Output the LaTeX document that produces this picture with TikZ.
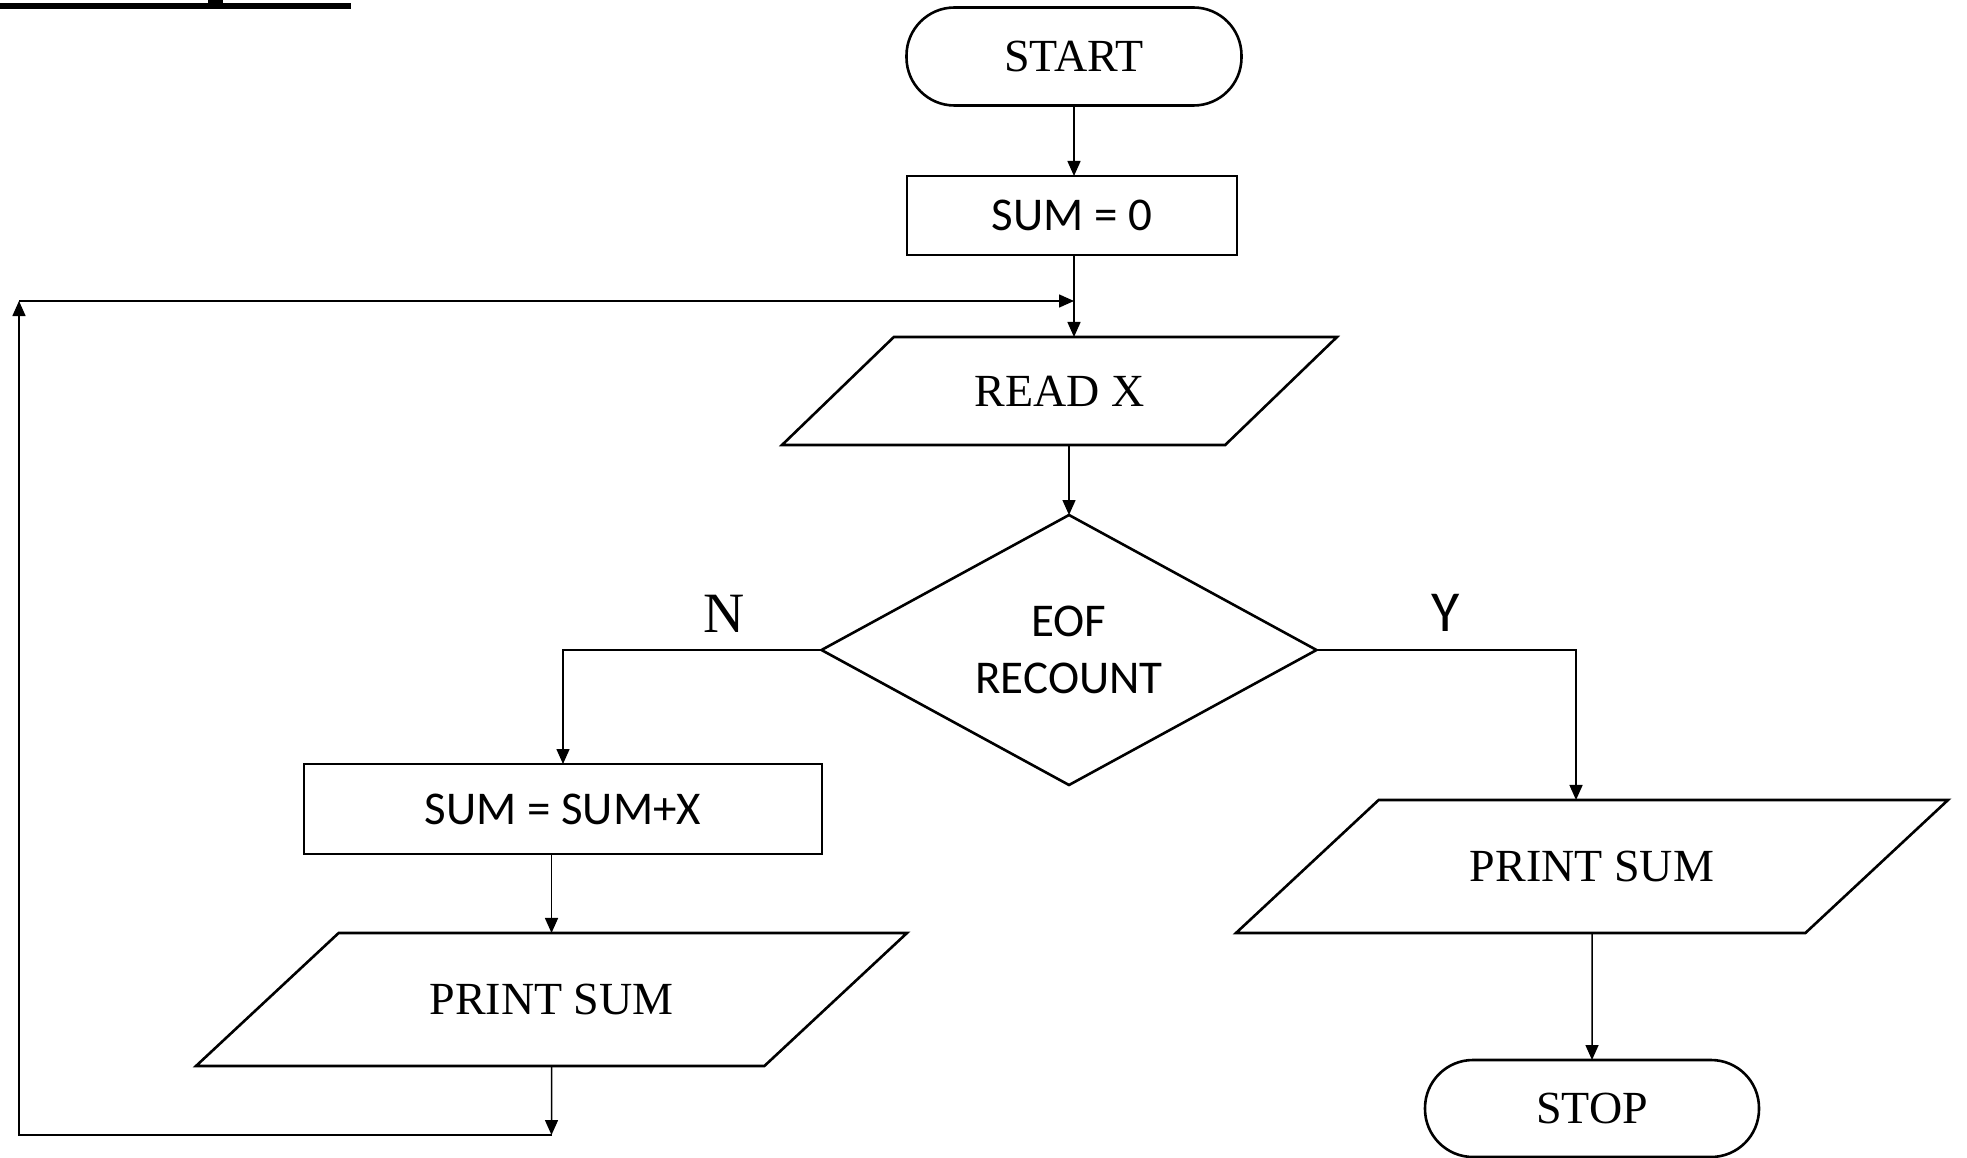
\documentclass[tikz,border=0pt]{standalone}
\usepackage{fontspec}
\setmainfont{Liberation Serif}
\newfontfamily\calfont{Carlito}
\usetikzlibrary{shapes.geometric,arrows.meta}

\begin{document}
\begin{tikzpicture}[x=1pt,y=-1pt,
  every node/.style={inner sep=0pt, outer sep=0pt},
  shapeline/.style={draw, line width=2.6pt},
  conn/.style={line width=1.5pt, -{Triangle[length=15pt,width=13pt]}},
  tfont/.style={font=\fontsize{46}{55}\selectfont},
  cfont/.style={font=\calfont\fontsize{47}{57}\selectfont},
  terminal/.style={shapeline, rectangle, rounded corners=48pt, tfont},
  process/.style={shapeline, rectangle, cfont},
  % slanted input/output box: its height comes from the fixed text box and
  % the vertical padding, so the sides keep their slope
  iobox/.style={shapeline, trapezium, trapezium left angle=#1, trapezium right angle=180-#1,
    trapezium stretches body, text height=30pt, text depth=0pt, tfont},
  decision/.style={shapeline, diamond, shape aspect=1.833, cfont, align=center},
]
\useasboundingbox (0,0) rectangle (1967,1158);

% heading underline at the top left
\fill (0,3.5) rectangle (351,9.5);
\fill (208,0) rectangle (223,4);

% flowchart blocks
\node[terminal, minimum width=335pt, minimum height=98pt] (start) at (1074,56.5) {START};
\node[process, minimum width=330pt, minimum height=79pt] (sum0) at (1072,215.5) {SUM = 0};
\node[iobox=44, inner ysep=39pt, minimum width=555pt] (read) at (1059.5,391) {READ X};
\node[decision, minimum width=495pt, minimum height=270pt] (dec) at (1069,650) {EOF\\RECOUNT};
\node[process, minimum width=518pt, minimum height=90pt] (sum1) at (563,809) {SUM = SUM+X};
\node[iobox=43, inner ysep=51.5pt, minimum width=711pt] (print1) at (551.5,999.5) {PRINT SUM};
\node[iobox=43, inner ysep=51.5pt, minimum width=712pt] (print2) at (1592,866.5) {PRINT SUM};
\node[terminal, minimum width=334pt, minimum height=97pt] (stop) at (1592,1108.5) {STOP};

% branch labels
\node[font=\fontsize{57}{60}\selectfont] (nlab) at (724,614) {N};
\node[font=\calfont\fontsize{58}{60}\selectfont] (ylab) at (1446,613) {Y};

% loop corners
\coordinate (c1) at (551.5,1135);
\coordinate (c2) at (19,1135);
\coordinate (c3) at (19,301);
\coordinate (c4) at (1074,301);

% connectors
\draw[conn] (start.south) -- (start.south |- sum0.north);
\draw[conn] (sum0.south -| start.south) -- (start.south |- read.north);
\draw[conn] (read.south -| dec.north) -- (dec.north);
\draw[conn] (dec.west) -| (sum1.north);
\draw[conn] (dec.east) -| ([xshift=-16pt]print2.north);
\draw[conn] (sum1.south -| print1.north) -- (print1.north);
\draw[conn] (print1.south) -- (c1);
\draw[conn] (c1) -- (c2) -- (c3);
\draw[conn] (c3) -- (c4);
\draw[conn] (print2.south) -- (stop.north);
\end{tikzpicture}
\end{document}
